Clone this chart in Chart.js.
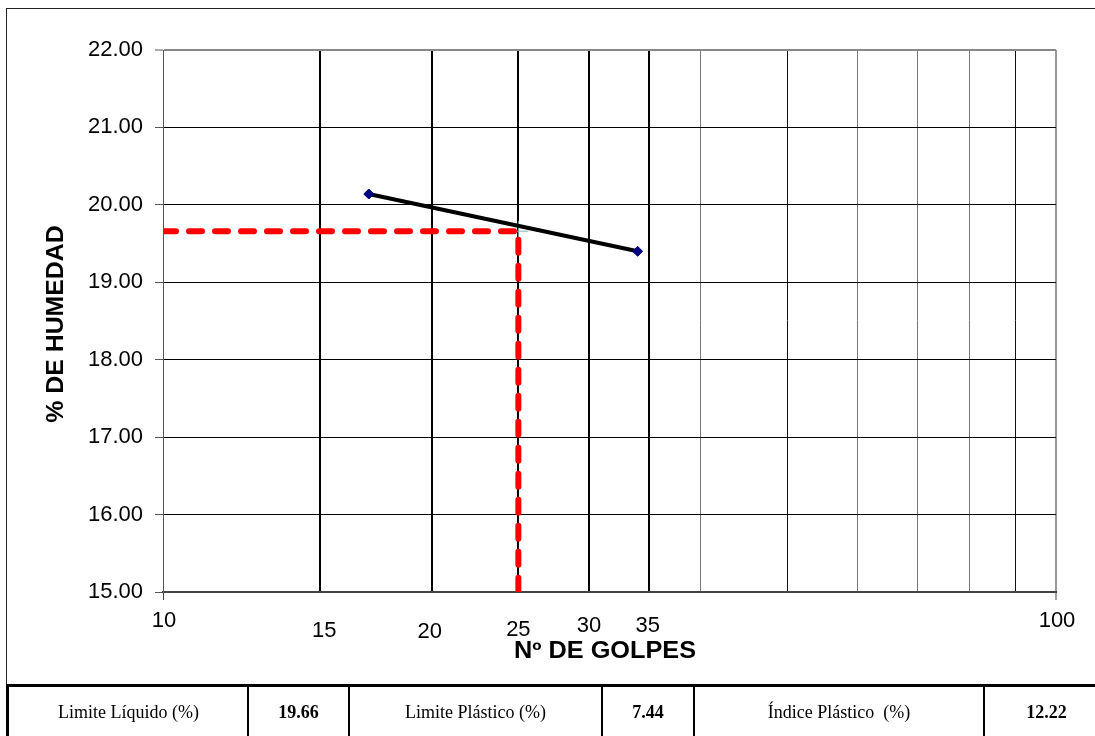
<!DOCTYPE html>
<html lang="es">
<head>
<meta charset="utf-8">
<title>Límite Líquido</title>
<script src="https://cdn.jsdelivr.net/npm/chart.js@4.4.1/dist/chart.umd.min.js"></script>
<style>
  html, body { margin: 0; padding: 0; background: #fff; }
  body { width: 1095px; height: 736px; position: relative; overflow: hidden; }
  #frame { position: absolute; left: 6px; top: 8px; width: 1200px; height: 680px;
           border-top: 1px solid #222; border-left: 1px solid #222; }
  #chart { position: absolute; left: 0; top: 0; }
  #tabla { position: absolute; left: 6px; top: 684px; width: 1200px; height: 60px;
           border-top: 3px solid #000; border-left: 3px solid #000; }
  .celda { position: absolute; top: 0; height: 50px; display: flex; align-items: center;
           justify-content: center; font-family: "Liberation Serif", "Times New Roman", serif;
           font-size: 18px; color: #000; box-sizing: border-box; white-space: pre; }
  .celda.valor { font-weight: bold; }
  .linea { position: absolute; top: 0; width: 2px; height: 60px; background: #000; }
</style>
</head>
<body>
<div id="frame"></div>
<canvas id="chart" width="1095" height="736"></canvas>
<div id="tabla"></div>
<script>
// Ensayo de límite líquido: número de golpes vs. contenido de humedad
const golpes = [17, 34];
const humedad = [20.14, 19.40];
const golpesLL = 25;
const limiteLiquido = 19.66;
const limitePlastico = 7.44;
const indicePlastico = 12.22;

const xGrid = [10, 15, 20, 25, 30, 35, 40, 50, 60, 70, 80, 90, 100];
const xLabels = [10, 15, 20, 25, 30, 35, 100];
const xMajor = [15, 20, 25, 30, 35];
const yMin = 15, yMax = 22, yStep = 1;

const tablaTextos = ['Limite Líquido (%)', limiteLiquido.toFixed(2), 'Limite Plástico (%)',
                     limitePlastico.toFixed(2), 'Índice Plástico  (%)', indicePlastico.toFixed(2)];

// --- tabla de resultados ---
const colX = [0, 239, 340, 593, 685, 975, 1100];
const tabla = document.getElementById('tabla');
tablaTextos.forEach((t, i) => {
  const c = document.createElement('div');
  c.className = 'celda' + (i % 2 ? ' valor' : '');
  c.style.left = colX[i] + 'px';
  c.style.width = (colX[i + 1] - colX[i]) + 'px';
  c.textContent = t;
  tabla.appendChild(c);
  if (i < tablaTextos.length - 1) {
    const l = document.createElement('div');
    l.className = 'linea';
    l.style.left = (colX[i + 1] - 1) + 'px';
    tabla.appendChild(l);
  }
});

// --- etiquetas del eje X (escalonadas) y títulos de ejes ---
const labelOffsets = { 10: [1, 35], 15: [4, 45], 20: [-2, 46], 25: [0, 44], 30: [0, 40], 35: [-1, 40], 100: [1, 35] };
const axisText = {
  id: 'axisText',
  afterDraw(chart) {
    const ctx = chart.ctx;
    const xs = chart.scales.x;
    const bottom = chart.chartArea.bottom;
    ctx.save();
    ctx.fillStyle = '#000';
    ctx.font = '22px "Liberation Sans", Arial, sans-serif';
    ctx.textAlign = 'center';
    ctx.textBaseline = 'alphabetic';
    xLabels.forEach(v => {
      const o = labelOffsets[v] || [0, 35];
      ctx.fillText(String(v), xs.getPixelForValue(v) + o[0], bottom + o[1]);
    });
    ctx.font = 'bold 23px "Liberation Sans", Arial, sans-serif';
    // título eje X
    ctx.save();
    ctx.translate(605, 658);
    ctx.scale(1.1, 1);
    ctx.fillText('Nº DE GOLPES', 0, 0);
    ctx.restore();
    // título eje Y
    ctx.save();
    ctx.translate(63, 324);
    ctx.rotate(-Math.PI / 2);
    ctx.scale(1.08, 1);
    ctx.fillText('% DE HUMEDAD', 0, 0);
    ctx.restore();
    ctx.restore();
  }
};

new Chart(document.getElementById('chart'), {
  type: 'scatter',
  data: {
    datasets: [
      {
        label: 'Humedad',
        data: golpes.map((g, i) => ({ x: g, y: humedad[i] })),
        showLine: true,
        borderColor: '#000',
        borderWidth: 4,
        pointStyle: 'rectRot',
        pointRadius: 5,
        pointBackgroundColor: '#000080',
        pointBorderColor: '#000080',
        pointBorderWidth: 1
      },
      {
        label: 'Límite líquido',
        data: [{ x: xGrid[0], y: limiteLiquido }, { x: golpesLL, y: limiteLiquido }, { x: golpesLL, y: yMin }],
        showLine: true,
        borderColor: '#ff0000',
        borderWidth: 6,
        borderDash: [13, 13],
        borderCapStyle: 'round',
        pointRadius: 0
      },
      {
        label: 'LL',
        data: [{ x: golpesLL, y: limiteLiquido }],
        pointStyle: 'cross',
        pointRadius: 10,
        pointBorderColor: '#7ab8b8',
        pointBorderWidth: 1
      }
    ]
  },
  options: {
    responsive: false,
    animation: false,
    events: [],
    layout: { padding: { left: 0, top: 50, right: 39, bottom: 0 } },
    plugins: { legend: { display: false }, tooltip: { enabled: false } },
    scales: {
      x: {
        type: 'logarithmic',
        min: 10,
        max: 100,
        afterBuildTicks: s => { s.ticks = xGrid.map(v => ({ value: v })); },
        afterFit: s => { s.height = 144; },
        ticks: { display: false },
        border: { display: true, color: '#444', width: 2 },
        grid: {
          color: c => {
            const v = c.tick && c.tick.value;
            if (xMajor.includes(v)) return '#000';
            if (v === 100) return '#999';
            if (v === 50 || v === 90) return '#111';
            if (v === 10) return '#555';
            return '#777';
          },
          lineWidth: c => {
            const v = c.tick && c.tick.value;
            return (xMajor.includes(v) || v === 100) ? 2 : 1;
          },
          drawTicks: true,
          tickLength: 8,
          tickColor: c => {
            const v = c.tick && c.tick.value;
            return (v === 10 || v === 100) ? '#444' : 'rgba(0,0,0,0)';
          },
          tickWidth: 1
        }
      },
      y: {
        type: 'linear',
        min: yMin,
        max: yMax,
        afterFit: s => { s.width = 163; },
        ticks: {
          stepSize: yStep,
          color: '#000',
          padding: 12,
          font: { family: '"Liberation Sans", Arial, sans-serif', size: 22 },
          callback: v => Number(v).toFixed(2)
        },
        border: { display: true, color: '#555', width: 1 },
        grid: {
          color: c => (c.tick && c.tick.value === yMax) ? '#888' : '#000',
          lineWidth: c => (c.tick && c.tick.value === yMax) ? 2 : 1,
          drawTicks: true,
          tickLength: 8,
          tickColor: '#555',
          tickWidth: 1
        }
      }
    }
  },
  plugins: [axisText]
});
</script>
</body>
</html>
